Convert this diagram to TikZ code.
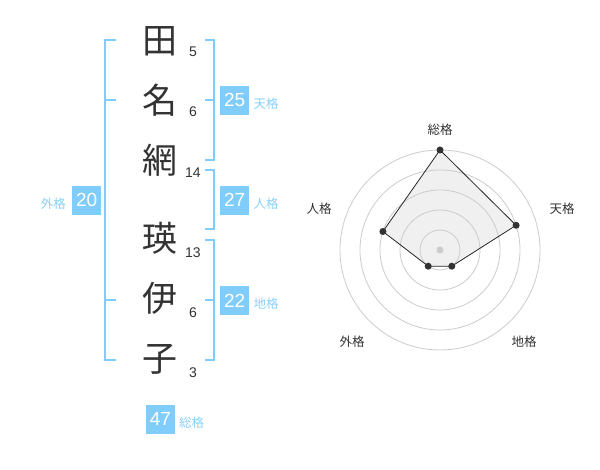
\documentclass[tikz,border=0pt]{standalone}
\usepackage{fontspec}
\setmainfont{Liberation Sans}
\newfontfamily\jpfont{Noto Sans CJK JP}
\definecolor{kblue}{RGB}{128,204,250}
\definecolor{klabel}{RGB}{140,208,250}
\definecolor{kdark}{RGB}{51,51,51}
\definecolor{kring}{RGB}{204,204,204}
\definecolor{kfill}{RGB}{240,240,240}
\tikzset{
  kanji/.style={inner sep=0pt, anchor=base, text=kdark, font=\jpfont\fontsize{35}{35}\selectfont},
  strokes/.style={inner sep=0pt, anchor=base, text=kdark, font=\fontsize{14}{14}\selectfont},
  bracket/.style={draw=kblue, line width=2pt},
  valbox/.style={fill=kblue, text=white, minimum width=29pt, minimum height=29pt, inner sep=0pt, font=\fontsize{19}{19}\selectfont},
  vallabel/.style={text=klabel, inner sep=0pt, font=\jpfont\fontsize{12.5}{12.5}\selectfont},
  ring/.style={draw=kring, line width=0.8pt},
  axislabel/.style={text=kdark, inner sep=0pt, font=\jpfont\fontsize{12.5}{12.5}\selectfont},
  dot/.style={circle, fill=kdark, inner sep=0pt, minimum size=7pt},
}
\begin{document}
\begin{tikzpicture}[x=1pt,y=-1pt]
\useasboundingbox[fill=white] (0,0) rectangle (600,470);
% characters
\node[kanji] (c1) at (160,54) {田};
\node[kanji] (c2) at (160,114) {名};
\node[kanji] (c3) at (160,174) {網};
\node[kanji] (c4) at (160,252) {瑛};
\node[kanji] (c5) at (160,312) {伊};
\node[kanji] (c6) at (160,372) {子};
% stroke counts
\node[strokes] (n1) at (193,57) {5};
\node[strokes] (n2) at (193,117) {6};
\node[strokes] (n3) at (193,178) {14};
\node[strokes] (n4) at (193,257.5) {13};
\node[strokes] (n5) at (193,317.5) {6};
\node[strokes] (n6) at (193,377.5) {3};
% outer bracket (gaikaku)
\draw[bracket] (116,40) -- (105,40) -- (105,360) -- (116,360);
\draw[bracket] (105,100) -- (116,100);
\draw[bracket] (105,300) -- (116,300);
% tenkaku bracket
\draw[bracket] (205,40) -- (214,40) -- (214,160) -- (205,160);
\draw[bracket] (214,100) -- (205,100);
% jinkaku bracket
\draw[bracket] (205,170) -- (214,170) -- (214,229) -- (205,229);
% chikaku bracket
\draw[bracket] (205,240) -- (214,240) -- (214,360) -- (205,360);
\draw[bracket] (214,300) -- (205,300);
% value boxes
\node[valbox] (b25) at (234.7,100.3) {25};
\node[vallabel] (l25) at (266,104) {天格};
\node[valbox] (b27) at (234.7,200.3) {27};
\node[vallabel] (l27) at (266,204) {人格};
\node[valbox] (b20) at (86.7,200.3) {20};
\node[vallabel] (l20) at (53.3,203.5) {外格};
\node[valbox] (b22) at (234.7,300.5) {22};
\node[vallabel] (l22) at (266,304) {地格};
\node[valbox] (b47) at (160.5,419) {47};
\node[vallabel] (l47) at (191.7,422.7) {総格};
% radar chart
\coordinate (rc) at (440,250);
\coordinate (psou) at (440,150);
\coordinate (pten) at (516.1,225.3);
\coordinate (pchi) at (451.8,266.2);
\coordinate (pgai) at (428.2,266.2);
\coordinate (pjin) at (382.9,231.5);
\fill[kfill] (psou) -- (pten) -- (pchi) -- (pgai) -- (pjin) -- cycle;
\foreach \r in {20,40,60,80,100} \draw[ring] (rc) circle[radius=\r];
\fill[kring] (rc) circle[radius=3.5];
\draw[draw=black!85, line width=0.8pt] (psou) -- (pten) -- (pchi) -- (pgai) -- (pjin) -- cycle;
\foreach \p in {psou,pten,pchi,pgai,pjin} \node[dot] at (\p) {};
\node[axislabel] (asou) at (440,130) {総格};
\node[axislabel] (aten) at (562,208.5) {天格};
\node[axislabel] (achi) at (524,342) {地格};
\node[axislabel] (agai) at (352,342) {外格};
\node[axislabel] (ajin) at (319,209) {人格};
\end{tikzpicture}
\end{document}
